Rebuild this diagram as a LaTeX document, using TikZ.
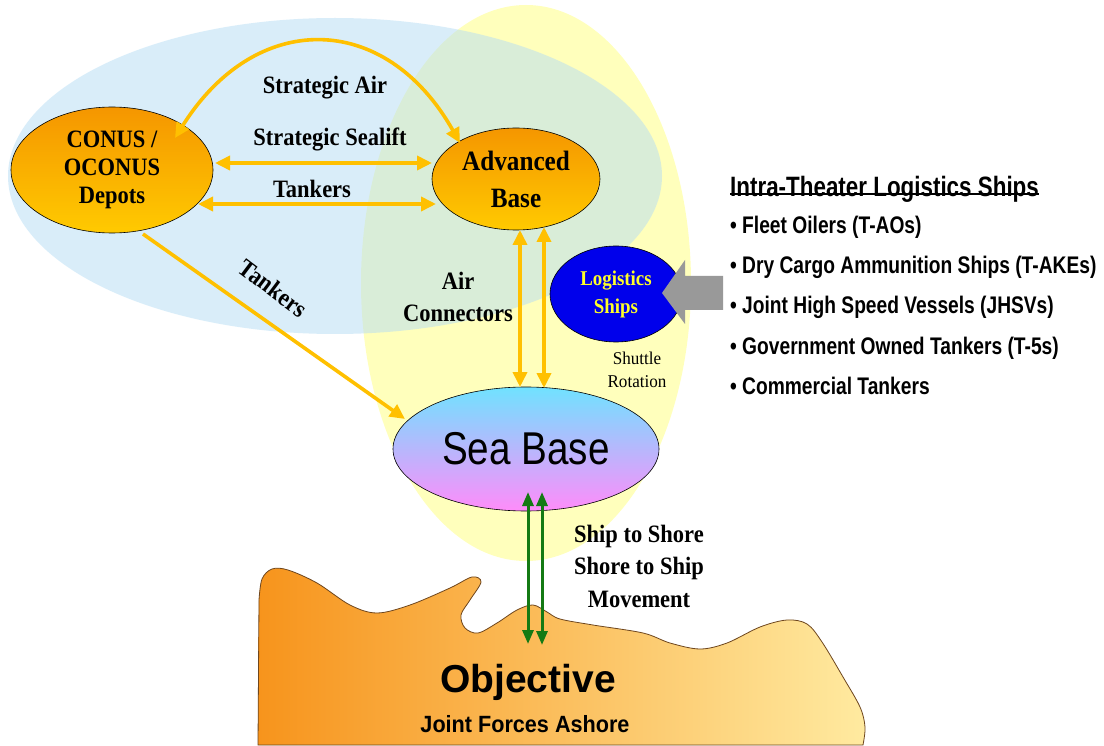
\documentclass[tikz,border=0pt]{standalone}
\usepackage{fontspec}
\usepackage{graphicx}
\setmainfont{Liberation Serif}
\newfontfamily\arialf{Liberation Sans}
\usetikzlibrary{shapes.geometric,arrows.meta,calc}

\definecolor{bluebg}{RGB}{181,221,245}
\definecolor{yellowbg}{RGB}{255,255,188}
\definecolor{hubtop}{RGB}{245,150,0}
\definecolor{hubbot}{RGB}{255,202,0}
\definecolor{seatop}{RGB}{112,226,255}
\definecolor{seabot}{RGB}{255,140,250}
\definecolor{logblue}{RGB}{0,0,235}
\definecolor{logtext}{RGB}{255,255,40}
\definecolor{ygold}{RGB}{255,192,0}
\definecolor{ggreen}{RGB}{20,122,20}
\definecolor{arrgray}{RGB}{153,153,153}
\definecolor{landL}{RGB}{247,148,28}
\definecolor{landR}{RGB}{255,234,160}
\definecolor{landline}{RGB}{110,70,30}

\newcommand\fs[2]{\fontsize{#1}{#2}\selectfont}
\newcommand\nr[1]{\scalebox{0.9}[1]{#1}}
\newcommand\nl[1]{\scalebox{0.8}[1]{#1}}
\newcommand\ns[1]{\scalebox{0.84}[1]{#1}}

\begin{document}
\begin{tikzpicture}[x=1pt,y=-1pt,
  hub/.style={ellipse, draw=black, line width=0.6pt, inner sep=0pt, align=center,
    top color=hubtop, bottom color=hubbot},
  seabase/.style={ellipse, draw=black, line width=0.6pt, inner sep=0pt,
    top color=seatop, bottom color=seabot, font=\arialf\fs{46}{50}},
  logi/.style={ellipse, draw=black, line width=0.6pt, inner sep=0pt, align=center,
    fill=logblue, text=logtext, font=\bfseries\fs{21}{28}},
  lbl/.style={inner sep=0pt, align=center, font=\bfseries\fs{25}{32}},
  yconn/.style={draw=ygold, line width=3.6pt, >={Triangle[length=15pt,width=14pt]}},
  gconn/.style={draw=ggreen, line width=3pt, >={Triangle[length=14pt,width=11pt]}},
  listhead/.style={inner sep=0pt, anchor=base west, font=\arialf\bfseries\fs{28}{32}},
  listitem/.style={inner sep=0pt, anchor=base west, font=\arialf\bfseries\fs{24}{28}},
  land/.style={draw=landline, line width=0.8pt, left color=landL, right color=landR}
]
\useasboundingbox (0,0) rectangle (1104,746);
\fill[white] (0,0) rectangle (1104,746);

% theatre regions
\fill[yellowbg] (526,283) ellipse [x radius=165pt, y radius=278pt];
\fill[bluebg, opacity=0.5] (335,176) ellipse [x radius=327pt, y radius=158pt];

% shoreline with the objective
\draw[land] (258,745) -- plot[smooth, tension=0.55] coordinates {
    (259,600) (262,579) (272,569) (288,570) (317,583) (350,605) (377,613)
    (410,605) (450,588) (472,577) (481,582) (470,600) (461,615) (465,628)
    (478,633) (497,623) (517,610) (533,605) (547,612) (560,619) (593,625)
    (643,633) (670,643) (700,649) (727,643) (760,627) (787,620) (807,624)
    (822,642) (843,677) (860,707) (865,727) (863,745)}
  -- cycle;
\node[font=\arialf\bfseries\fs{39}{44}, inner sep=0pt, anchor=base] (obj) at (528,692) {Objective};
\node[font=\arialf\bfseries\fs{23.5}{28}, inner sep=0pt, anchor=base] (ashore) at (525,732) {\scalebox{0.92}[1]{Joint Forces Ashore}};
\coordinate (shoreA) at (528,644);
\coordinate (shoreB) at (542,645);

% bases
\node[hub, minimum width=202pt, minimum height=126pt, font=\bfseries\fs{25}{28}] (conus) at (112,170)
  {\nr{CONUS /}\\\nr{OCONUS}\\\nr{Depots}};
\node[hub, minimum width=168pt, minimum height=102pt, font=\bfseries\fs{28}{37}] (adv) at (516,179)
  {\nr{Advanced}\\\nr{Base}};
\node[seabase, minimum width=266pt, minimum height=124pt] (sea) at (526,449) {\ns{Sea Base}};
\node[logi, minimum width=132pt, minimum height=96pt] (logi) at (616,294)
  {\nr{Logistics}\\\nr{Ships}};

% supply block arrow into the logistics ships
\fill[arrgray] (662,293) -- (685,260) -- (685,276) -- (723,276) -- (723,310) -- (685,310) -- (685,324) -- cycle;

% strategic lift
\draw[yconn,<->] ($(conus.center)+(63,-32)$) .. controls (255,10) and (385,10) .. ($(adv.center)+(-56,-36)$);
\draw[yconn,<->] ($(conus.center)+(103,-7)$) -- ($(adv.center)+(-84,-16)$);
\draw[yconn,<->] ($(conus.center)+(86,34)$) -- ($(adv.center)+(-80,25)$);
\draw[yconn,->] ($(conus.center)+(31,64)$) -- ($(sea.center)+(-121,-30)$);
% air connectors
\draw[yconn,<->] ($(adv.center)+(4,51)$) -- ($(sea.center)+(-6,-62)$);
\draw[yconn,<->] ($(adv.center)+(28,48)$) -- ($(sea.center)+(18,-61)$);
% ship to shore
\draw[gconn,<->] ($(sea.center)+(2,43)$) -- (shoreA);
\draw[gconn,<->] ($(sea.center)+(16,43)$) -- (shoreB);

% labels
\node[lbl] (lsair) at (325,88) {\nr{Strategic Air}};
\node[lbl] (lsea) at (330,139) {\nr{Strategic Sealift}};
\node[lbl] (ltank) at (312,189) {\nr{Tankers}};
\node[lbl, rotate=-37] (ltank2) at (273,288) {\nr{Tankers}};
\node[lbl] (lair) at (458,297) {\nr{Air}\\\nr{Connectors}};
\node[inner sep=0pt, align=center, font=\fs{18}{23}] (lshut) at (637,370) {\scalebox{0.95}[1]{Shuttle}\\\scalebox{0.95}[1]{Rotation}};
\node[lbl, font=\bfseries\fs{25}{32.5}] (lship) at (639,566) {\nr{Ship to Shore}\\\nr{Shore to Ship}\\\nr{Movement}};

% list of intra-theater ships
\node[listhead] (lhead) at (730,197) {\nl{Intra-Theater Logistics Ships}};
\draw[line width=2.2pt] ([yshift=3pt]lhead.base west) -- ([yshift=3pt]lhead.base east);
\node[listitem] (it1) at (730,234) {\nl{• Fleet Oilers (T-AOs)}};
\node[listitem] (it2) at (730,274) {\nl{• Dry Cargo Ammunition Ships (T-AKEs)}};
\node[listitem] (it3) at (730,314) {\nl{• Joint High Speed Vessels (JHSVs)}};
\node[listitem] (it4) at (730,354) {\nl{• Government Owned Tankers (T-5s)}};
\node[listitem] (it5) at (730,394) {\nl{• Commercial Tankers}};
\end{tikzpicture}
\end{document}
